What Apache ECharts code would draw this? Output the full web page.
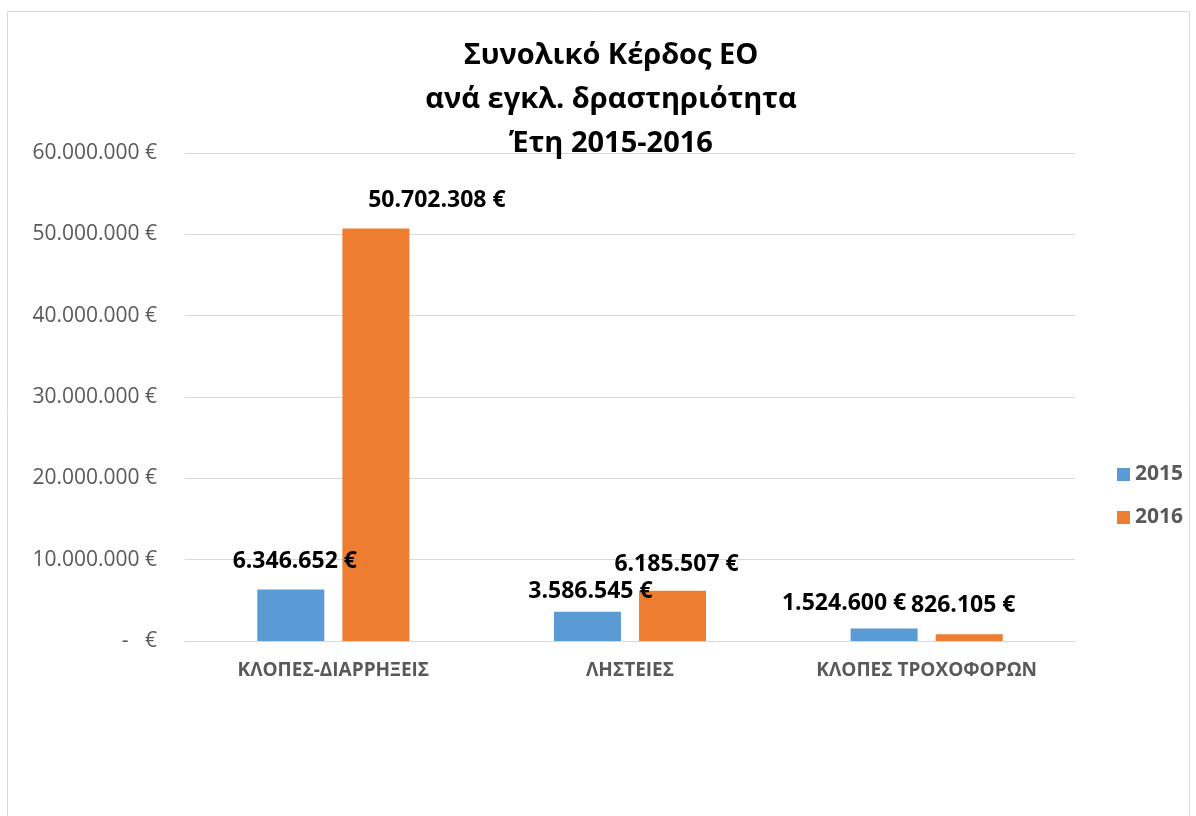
<!DOCTYPE html>
<html>
<head>
<meta charset="utf-8">
<script src="https://cdn.jsdelivr.net/npm/echarts@6/dist/echarts.min.js"></script>
<style>
  html, body { margin: 0; padding: 0; background: #fff; }
  #chart { width: 1196px; height: 816px; }
</style>
</head>
<body>
<div id="chart"></div>
<script>
// data
var categories = ["ΚΛΟΠΕΣ-ΔΙΑΡΡΗΞΕΙΣ", "ΛΗΣΤΕΙΕΣ", "ΚΛΟΠΕΣ ΤΡΟΧΟΦΟΡΩΝ"];
var years = ["2015", "2016"];
var values2015 = [6346652, 3586545, 1524600];
var values2016 = [50702308, 6185507, 826105];
var yTicks = [0, 10000000, 20000000, 30000000, 40000000, 50000000, 60000000];

// label nudges (Excel had them moved by hand)
var offsets2015 = [[4, -11], [3, -4], [-40, -9]];
var offsets2016 = [[61, -12], [4, -10], [-6, -12]];

var FONT = "Open Sans";

function euro(v) {
  if (v === 0) return "-   €";
  return String(v).replace(/\B(?=(\d{3})+(?!\d))/g, ".") + " €";
}

function seriesData(vals, offs) {
  return vals.map(function (v, i) {
    return { value: v, label: { offset: offs[i] } };
  });
}

var myChart = echarts.init(document.getElementById("chart"));
var option = {
  backgroundColor: "#fff",
  textStyle: { fontFamily: FONT },
  title: {
    text: "Συνολικό Κέρδος ΕΟ\nανά εγκλ. δραστηριότητα\nΈτη 2015-2016",
    left: 606,
    textAlign: "center",
    top: 29,
    textStyle: {
      fontFamily: FONT,
      fontSize: 29,
      fontWeight: "bold",
      color: "#000",
      lineHeight: 44
    }
  },
  legend: {
    orient: "vertical",
    left: 1112,
    top: 459,
    itemWidth: 13,
    itemHeight: 13,
    itemGap: 22,
    icon: "rect",
    textStyle: { fontFamily: FONT, fontSize: 21, fontWeight: "bold", color: "#595959" },
    data: years
  },
  grid: { left: 185, right: 121, top: 153, bottom: 175 },
  xAxis: {
    type: "category",
    data: categories,
    axisLine: { lineStyle: { color: "#d9d9d9", width: 1 } },
    axisTick: { show: false },
    axisLabel: {
      margin: 20,
      fontFamily: FONT,
      fontSize: 19,
      fontWeight: "bold",
      color: "#595959"
    }
  },
  yAxis: {
    type: "value",
    min: yTicks[0],
    max: yTicks[yTicks.length - 1],
    interval: 10000000,
    axisLine: { show: false },
    axisTick: { show: false },
    splitLine: { lineStyle: { color: "#d9d9d9", width: 1 } },
    axisLabel: {
      margin: 28,
      fontFamily: FONT,
      fontSize: 21,
      color: "#595959",
      formatter: euro
    }
  },
  graphic: [{
    type: "rect",
    shape: { x: 7.5, y: 11.5, width: 1182, height: 820 },
    style: { fill: "none", stroke: "#d9d9d9", lineWidth: 1 },
    silent: true
  }],
  series: [
    {
      name: years[0],
      type: "bar",
      data: seriesData(values2015, offsets2015),
      barWidth: 67,
      barGap: "27%",
      itemStyle: { color: "#5b9bd5" },
      label: {
        show: true,
        position: "top",
        fontFamily: FONT,
        fontSize: 23,
        fontWeight: "bold",
        color: "#000",
        formatter: function (p) { return euro(p.value); }
      }
    },
    {
      name: years[1],
      type: "bar",
      data: seriesData(values2016, offsets2016),
      barWidth: 67,
      itemStyle: { color: "#ed7d31" },
      label: {
        show: true,
        position: "top",
        fontFamily: FONT,
        fontSize: 23,
        fontWeight: "bold",
        color: "#000",
        formatter: function (p) { return euro(p.value); }
      }
    }
  ]
};
option && myChart.setOption(option);
</script>
</body>
</html>
